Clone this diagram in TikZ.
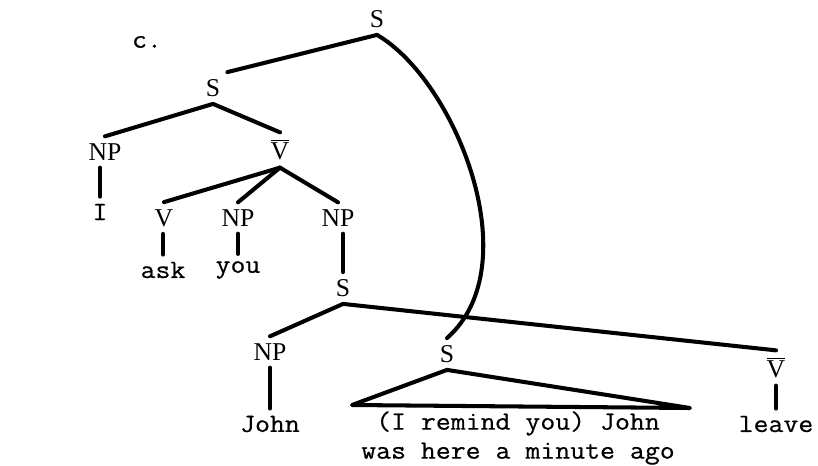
\documentclass[tikz,border=0pt]{standalone}
\usepackage{fontspec}
\setmainfont{Liberation Serif}
\setmonofont{Latin Modern Mono}[FakeStretch=1.1, FakeBold=0.6]
\usetikzlibrary{positioning}

\begin{document}
\begin{tikzpicture}[x=0.02cm, y=-0.02cm, line width=2.3pt, line cap=round, line join=round,
    every node/.style={inner sep=3pt, font=\fontsize{14.6}{16.5}\selectfont},
    cat/.style={},
    word/.style={font=\ttfamily\fontsize{15}{16.5}\selectfont}]
  \useasboundingbox (0,0) rectangle (818,466);
  % labels
  \node[word] (ex) at (147,42) {c.};
  \node[cat] (top) at (377,19) {S};
  \node[cat] (s1) at (213,88) {S};
  \node[cat] (np1) at (105,152) {NP};
  \node[word] (i) at (100,212) {I};
  \node[cat] (vb1) at (280,150) {$\overline{\hbox{V}}$};
  \node[cat] (v) at (164,218) {V};
  \node[cat] (np2) at (238,218) {NP};
  \node[cat] (np3) at (338,218) {NP};
  \node[word] (ask) at (163,270) {ask};
  \node[word] (you) at (238,270) {you};
  \node[cat] (s2) at (343,288) {S};
  \node[cat] (np4) at (270,352) {NP};
  \node[word] (john) at (270,424) {John};
  \node[cat] (s3) at (447,354) {S};
  \node[word, align=center] (phrase) at (518,438) {(I remind you) John\\was here a minute ago};
  \node[cat] (vb2) at (776,368) {$\overline{\hbox{V}}$};
  \node[word] (leave) at (776,424) {leave};
  \coordinate (tl) at (352,405);
  \coordinate (tr) at (690,408);
  % branches
  \draw (top.south) -- (s1.north east);
  \draw (top.south) .. controls (455,80) and (530,265) .. (s3.north);
  \draw (s1.south) -- (np1.north);
  \draw (s1.south) -- (vb1.north);
  \draw (i.north) -- (i |- np1.south);
  \draw (vb1.south) -- (v.north);
  \draw (vb1.south) -- (np2.north);
  \draw (vb1.south) -- (np3.north);
  \draw (ask.north) -- (ask |- v.south);
  \draw (you.north) -- (you |- np2.south);
  \draw (s2.north) -- (s2 |- np3.south);
  \draw (s2.south) -- (np4.north);
  \draw (s2.south) -- (vb2.north);
  \draw (np4) -- (john);
  \draw (s3.south) -- (tl) -- (tr) -- cycle;
  \draw (vb2) -- (leave);
\end{tikzpicture}
\end{document}
